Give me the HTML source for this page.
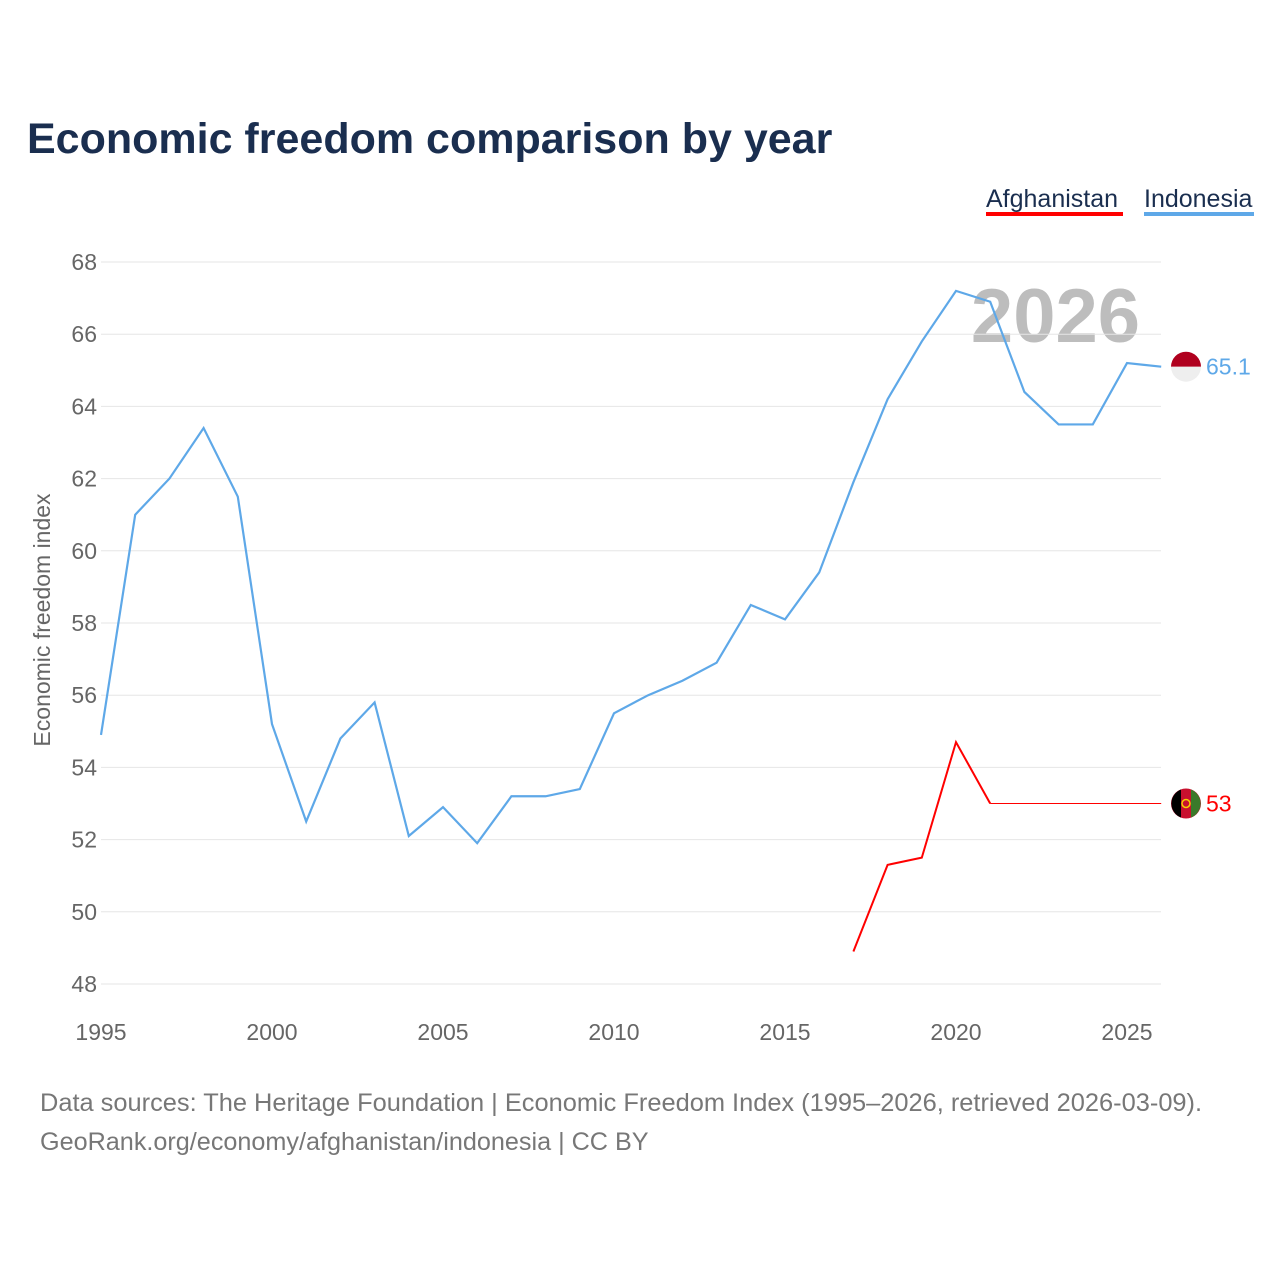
<!DOCTYPE html>
<html><head><meta charset="utf-8">
<style>
body{margin:0;background:#fff;width:1280px;height:1280px;overflow:hidden;font-family:"Liberation Sans",sans-serif;}
</style></head>
<body>
<svg id="chart" width="1280" height="1280" xmlns="http://www.w3.org/2000/svg" font-family="Liberation Sans, sans-serif">
<text x="27" y="153" font-size="43" font-weight="bold" fill="#1a2e4f">Economic freedom comparison by year</text>
<g>
<text x="986" y="207" font-size="25" fill="#1a2e4f">Afghanistan</text>
<rect x="986" y="212" width="137" height="4" fill="#ff0000"/>
<text x="1144" y="207" font-size="25" fill="#1a2e4f">Indonesia</text>
<rect x="1144" y="212" width="110" height="4" fill="#5ea8e8"/>
</g>
<text transform="translate(50,620) rotate(-90)" text-anchor="middle" font-size="23" fill="#666">Economic freedom index</text>
<text x="1140" y="342" text-anchor="end" font-size="76" font-weight="bold" fill="#bdbdbd">2026</text>
<g id="grid"></g><g id="marks"></g>
<text x="40" y="1111" font-size="25.4" fill="#777">Data sources: The Heritage Foundation | Economic Freedom Index (1995–2026, retrieved 2026-03-09).</text>
<text x="40" y="1150" font-size="25.2" fill="#777">GeoRank.org/economy/afghanistan/indonesia | CC BY</text>
</svg>
<script>
const years=[1995,1996,1997,1998,1999,2000,2001,2002,2003,2004,2005,2006,2007,2008,2009,2010,2011,2012,2013,2014,2015,2016,2017,2018,2019,2020,2021,2022,2023,2024,2025,2026];
const indonesia=[54.9,61.0,62.0,63.4,61.5,55.2,52.5,54.8,55.8,52.1,52.9,51.9,53.2,53.2,53.4,55.5,56.0,56.4,56.9,58.5,58.1,59.4,61.9,64.2,65.8,67.2,66.9,64.4,63.5,63.5,65.2,65.1];
const afgYears=[2017,2018,2019,2020,2021,2022,2023,2024,2025,2026];
const afghanistan=[48.9,51.3,51.5,54.7,53.0,53.0,53.0,53.0,53.0,53.0];
const yTicks=[48,50,52,54,56,58,60,62,64,66,68];
const xTicks=[1995,2000,2005,2010,2015,2020,2025];
const NS="http://www.w3.org/2000/svg";
const x=v=>101+(v-1995)*(1127-101)/30;
const y=v=>984-(v-48)*(984-262)/20;
const grid=document.getElementById('grid'),marks=document.getElementById('marks');
function mk(tag,attrs,parent){const e=document.createElementNS(NS,tag);for(const k in attrs)e.setAttribute(k,attrs[k]);parent.appendChild(e);return e;}
yTicks.forEach(t=>{
 const l=mk('line',{x1:101,x2:1161,y1:y(t),y2:y(t),stroke:'#e6e6e6','stroke-width':1},grid);
 
 
 const tx=mk('text',{x:97,y:y(t)+8,'text-anchor':'end','font-size':23,fill:'#666'},grid);tx.textContent=t;
 
 
});
xTicks.forEach(t=>{
 const tx=mk('text',{x:x(t),y:1040,'text-anchor':'middle','font-size':23,fill:'#666'},grid);tx.textContent=t;
 
 
});
const pi=mk('polyline',{points:years.map((yr,i)=>x(yr)+','+y(indonesia[i])).join(' '),fill:'none',stroke:'#5ea8e8','stroke-width':2.2},marks);


const pa=mk('polyline',{points:afgYears.slice(0,5).map((yr,i)=>x(yr)+','+y(afghanistan[i])).join(' '),fill:'none',stroke:'#ff0000','stroke-width':2},marks);


const pa2=mk('polyline',{points:afgYears.slice(4).map((yr,i)=>x(yr)+','+y(afghanistan[i+4])).join(' '),fill:'none',stroke:'#ff0000','stroke-width':1},marks);


const iy=y(indonesia[indonesia.length-1]), ay=y(afghanistan[afghanistan.length-1]);
const fi=mk('g',{},marks);


mk('path',{d:`M1171 ${iy} a15 15 0 0 1 30 0z`,fill:'#b0001e'},fi);
mk('path',{d:`M1171 ${iy} a15 15 0 0 0 30 0z`,fill:'#eeeeee'},fi);
const fa=mk('g',{},marks);


mk('circle',{cx:1186,cy:ay,r:15,fill:'#c8102e'},fa);
mk('path',{d:`M1181 ${ay-14} A15 15 0 0 0 1181 ${ay+14}z`,fill:'#000'},fa);
mk('path',{d:`M1191 ${ay-14} A15 15 0 0 1 1191 ${ay+14}z`,fill:'#3a7a2a'},fa);
mk('circle',{cx:1186,cy:ay,r:4,fill:'none',stroke:'#f5d000','stroke-width':1.5},fa);
const li=mk('text',{x:1206,y:iy+8,'font-size':23,fill:'#5ea8e8'},marks);li.textContent=indonesia[indonesia.length-1];


const la=mk('text',{x:1206,y:ay+8,'font-size':23,fill:'#ff0000'},marks);la.textContent=afghanistan[afghanistan.length-1];


</script>
</body></html>
